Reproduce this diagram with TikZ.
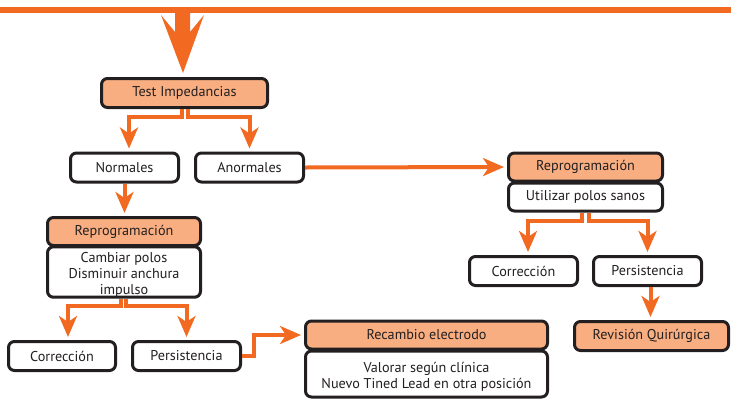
\documentclass[tikz,border=0pt]{standalone}
\usepackage{fontspec}
\setmainfont{PT Sans}
\usetikzlibrary{arrows.meta}
\definecolor{org}{HTML}{F26A22}
\definecolor{peach}{HTML}{F8AE80}
\definecolor{ink}{HTML}{231F20}
\newcommand{\topstrut}{\rule{0pt}{16pt}}
\begin{document}
\begin{tikzpicture}[x=1pt,y=-1pt,
 box/.style={draw=ink, line width=3pt, rounded corners=6pt, fill=white, text=ink,
   font=\fontsize{14.2}{15.8}\selectfont, inner sep=0pt, align=center, minimum height=29pt},
 head/.style={box, fill=peach},
 conn/.style={draw=org, line width=4pt, -{Stealth[length=21pt,width=18pt,inset=6pt]}, shorten >=3pt},
]
\useasboundingbox (0,0) rectangle (731,400);
% top line and big arrow
\fill[org] (0,7) rectangle (731,13);
\coordinate (top) at (183,10);
\fill[org] (175,13) -- (190,13) -- (190,32) -- (204,15) -- (183,73) -- (161,15) -- (175,32) -- cycle;

% nodes
\node[head, minimum width=166pt] (testimp) at (184.5,93) {Test Impedancias};
\node[box, minimum width=108pt] (normales) at (124.5,167.5) {Normales};
\node[box, minimum width=108pt] (anormales) at (249.5,167.5) {Anormales};

\node[box, minimum width=153pt, minimum height=50pt] (reproLb) at (124,272) {\topstrut Cambiar polos\\Disminuir anchura\\impulso};
\node[head, minimum width=153pt, minimum height=28pt] (reproLh) at (124,231.5) {Reprogramación};

\node[box, minimum width=154pt, minimum height=28pt] (reproRb) at (585.5,197) {Utilizar polos sanos};
\node[head, minimum width=154pt, minimum height=28pt] (reproRh) at (585.5,167) {Reprogramación};

\node[box, minimum width=108pt] (corrR) at (523.5,271) {Corrección};
\node[box, minimum width=108pt] (persR) at (647.5,271) {Persistencia};
\node[head, minimum width=154pt] (revision) at (651.5,336) {Revisión Quirúrgica};

\node[box, minimum width=107pt] (corrL) at (62,356) {Corrección};
\node[box, minimum width=108pt] (persL) at (186.5,356) {Persistencia};

\node[box, minimum width=242pt, minimum height=46pt] (recb) at (426.5,374) {\topstrut Valorar según clínica\\Nuevo Tined Lead en otra posición};
\node[head, minimum width=242pt, minimum height=28pt] (rech) at (426.5,335) {Recambio electrodo};

% connectors
\draw[conn] ([xshift=-3pt]testimp.south) -- ++(0,8) -| ([xshift=4.5pt]normales.north);
\draw[conn] ([xshift=3pt]testimp.south) -- ++(0,8) -| (anormales.north);
\draw[conn] (normales.south) -- (normales.south |- reproLh.north);
\draw[conn] (anormales.east) -- (reproRh.west);

\draw[conn] ([xshift=-4pt]reproRb.south) -- ++(0,8) -| ([xshift=4.5pt]corrR.north);
\draw[conn] ([xshift=3pt]reproRb.south) -- ++(0,8) -| (persR.north);
\draw[conn] ([xshift=3pt]persR.south) -- ([xshift=3pt]persR.south |- revision.north);

\draw[conn] ([xshift=-3pt]reproLb.south) -- ++(0,7) -| ([xshift=6pt]corrL.north);
\draw[conn] ([xshift=2pt]reproLb.south) -- ++(0,7) -| (persL.north);
\draw[conn] (persL.east) -- ++(12,0) |- (rech.west);
\end{tikzpicture}
\end{document}
